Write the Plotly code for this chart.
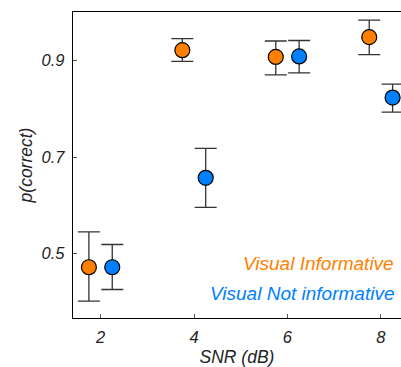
import plotly.graph_objects as go

snr_inf = [1.75, 3.75, 5.75, 7.75]
p_inf = [0.472, 0.921, 0.907, 0.948]
p_inf_hi = [0.545, 0.945, 0.940, 0.983]
p_inf_lo = [0.402, 0.898, 0.870, 0.912]

snr_not = [2.25, 4.25, 6.25, 8.25]
p_not = [0.472, 0.657, 0.908, 0.823]
p_not_hi = [0.519, 0.718, 0.941, 0.851]
p_not_lo = [0.426, 0.596, 0.874, 0.793]

x_ticks = [2, 4, 6, 8]
y_ticks = [0.5, 0.7, 0.9]
y_tick_labels = ["0.5", "0.7", "0.9"]

ORANGE = "#FF8000"
BLUE = "#0080FF"
FONT = "Liberation Sans, Arial, sans-serif"

fig = go.Figure()

def add_series(x, y, hi, lo, color, name):
    fig.add_trace(go.Scatter(
        x=x, y=y, mode="markers", name=name,
        marker=dict(size=15, color=color, line=dict(color="black", width=1.2)),
        error_y=dict(type="data", symmetric=False,
                     array=[h - v for h, v in zip(hi, y)],
                     arrayminus=[v - l for v, l in zip(y, lo)],
                     color="#333333", thickness=1.3, width=11),
        showlegend=False, cliponaxis=False,
    ))

add_series(snr_inf, p_inf, p_inf_hi, p_inf_lo, ORANGE, "Visual Informative")
add_series(snr_not, p_not, p_not_hi, p_not_lo, BLUE, "Visual Not informative")

fig.add_annotation(text="<i>Visual Informative</i>", xref="paper", yref="paper",
                   x=0.985, y=(318 - 263) / 306, xanchor="right", yanchor="middle",
                   showarrow=False, font=dict(family=FONT, size=19, color=ORANGE))
fig.add_annotation(text="<i>Visual Not informative</i>", xref="paper", yref="paper",
                   x=0.985, y=(318 - 293) / 306, xanchor="right", yanchor="middle",
                   showarrow=False, font=dict(family=FONT, size=19, color=BLUE))

fig.update_layout(
    width=401, height=367,
    margin=dict(l=73, r=0, t=12, b=49, pad=0),
    paper_bgcolor="white", plot_bgcolor="white",
    font=dict(family=FONT, size=16.5, color="#222222"),
    xaxis=dict(
        range=[1.41, 8.43], tickvals=x_ticks, ticktext=[f"<i>{v}</i>" for v in x_ticks],
        showline=True, linecolor="black", linewidth=1.3, mirror=True,
        ticks="inside", ticklen=4, tickcolor="#555555", tickwidth=1,
        showgrid=False, zeroline=False, automargin=False,
        title=dict(text="<i>SNR (dB)</i>", font=dict(size=17.5), standoff=7),
        ticklabelstandoff=4,
    ),
    yaxis=dict(
        range=[0.367, 1.0], tickvals=y_ticks, ticktext=[f"<i>{t}</i>" for t in y_tick_labels],
        showline=True, linecolor="black", linewidth=1.3, mirror=False,
        ticks="inside", ticklen=4, tickcolor="#555555", tickwidth=1,
        showgrid=False, zeroline=False, automargin=False,
        title=dict(text="<i>p(correct)</i>", font=dict(size=17.5), standoff=4),
        ticklabelstandoff=4,
    ),
)

fig.write_html("out.html", config={"displayModeBar": False},
               post_script="document.body.style.margin='0';document.body.style.overflow='hidden';")
